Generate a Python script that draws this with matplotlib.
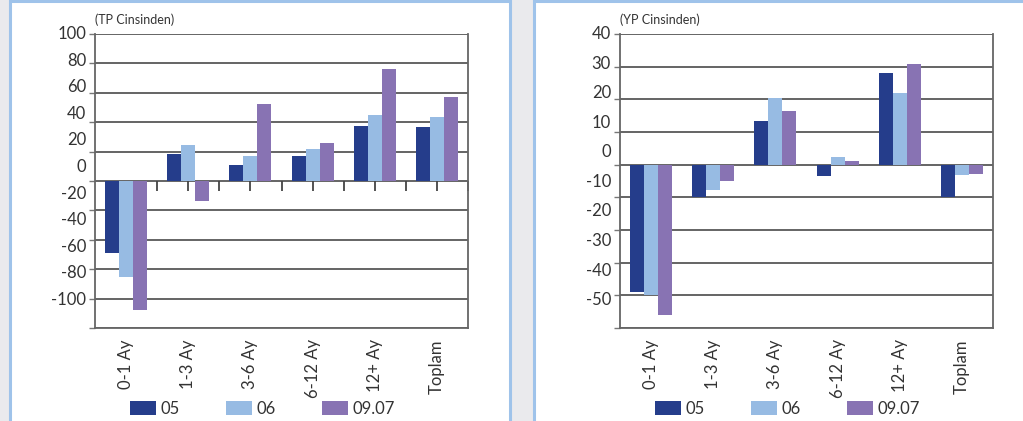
import matplotlib
matplotlib.use("Agg")
import matplotlib.pyplot as plt
from matplotlib.patches import Rectangle
from matplotlib.markers import TICKDOWN
import numpy as np

plt.rcParams['font.family'] = ['Lato', 'DejaVu Sans']

# ------ data ------ #
categories = ['0-1 Ay', '1-3 Ay', '3-6 Ay', '6-12 Ay', '12+ Ay', 'Toplam']
series_names = ['05', '06', '09.07']

tp_05 = [-48.8, 18.4, 10.9, 17.0, 37.4, 36.7]
tp_06 = [-65.1, 24.5, 17.0, 21.8, 44.9, 43.5]
tp_0907 = [-87.5, -13.6, 52.4, 25.9, 76.2, 57.1]
tp_ticks = [100, 80, 60, 40, 20, 0, -20, -40, -60, -80, -100]

yp_05 = [-39.0, -10.0, 13.4, -3.4, 28.1, -10.0]
yp_06 = [-40.0, -7.8, 20.4, 2.3, 21.9, -3.2]
yp_0907 = [-46.1, -5.0, 16.4, 1.1, 30.8, -2.9]
yp_ticks = [40, 30, 20, 10, 0, -10, -20, -30, -40, -50]

colors = ['#253d8b', '#97bbe3', '#8873b3']
text_col = '#333333'
fs = 12

W, H = 1023, 421
fig = plt.figure(figsize=(W / 100, H / 100), dpi=100)
fig.patch.set_facecolor('#eaeaed')

# white panels with light blue frame
for x0, x1 in [(10, 510), (533.5, 1030)]:
    fig.patches.append(Rectangle((x0 / W, -0.05), (x1 - x0) / W, 1.05 - 1.5 / H,
                                 transform=fig.transFigure, facecolor='white',
                                 edgecolor='#9fc3ea', linewidth=2.2, zorder=-5))


def draw_panel(left, title, values, ticks, legend_x):
    ax = fig.add_axes([left / W, 1 - 328 / H, 373 / W, 294 / H])
    x = np.arange(len(categories))
    w = 0.225
    for i, (vals, c, name) in enumerate(zip(values, colors, series_names)):
        ax.bar(x + (i - 1) * w, vals, w, color=c, label=name, zorder=3)

    ax.set_xlim(-0.5, len(categories) - 0.5)
    ax.set_ylim(min(ticks), max(ticks))
    ax.set_yticks(ticks)
    ax.yaxis.grid(True, color='#3a3a3a', linewidth=1.1, zorder=1)
    ax.set_axisbelow(True)
    ax.tick_params(axis='y', length=4, width=1, color='#777777', labelleft=False)
    ax.set_xticks(x)
    ax.set_xticklabels(categories, rotation=90, fontsize=fs, color=text_col, va='top')
    ax.tick_params(axis='x', length=0, pad=8)
    for s in ax.spines.values():
        s.set_color('#666666')
        s.set_linewidth(1.3)
    ax.spines['top'].set_visible(False)

    # value labels on the left, spread a little tighter than the gridlines
    lo, hi = min(ticks), max(ticks)
    for t in ticks:
        frac = (t - lo) / (hi - lo)
        ax.text(-9 / 373, 1 - 0.905 * (1 - frac), str(t), transform=ax.transAxes,
                ha='right', va='center', fontsize=fs, color=text_col)

    ax.text(0, 1 + 14 / 294, title, transform=ax.transAxes, ha='left', va='center',
            fontsize=9, color=text_col)

    leg = fig.legend(*ax.get_legend_handles_labels(), loc='center left',
                     bbox_to_anchor=(legend_x / W, 1 - 409 / H), ncol=3, frameon=False,
                     fontsize=fs, handlelength=1.55, handleheight=0.95,
                     handletextpad=0.3, columnspacing=2.75, borderpad=0,
                     borderaxespad=0)
    for t in leg.get_texts():
        t.set_color(text_col)
    return ax


ax1 = draw_panel(95, '(TP Cinsinden)', [tp_05, tp_06, tp_0907], tp_ticks, 130)
ax2 = draw_panel(620, '(YP Cinsinden)', [yp_05, yp_06, yp_0907], yp_ticks, 655)

# small marks hanging below the zero line of the TP chart,
# at every category centre and between categories
marks = np.arange(0, len(categories) - 0.25, 0.5)
ax1.plot(marks, np.zeros_like(marks), linestyle='none', marker=TICKDOWN,
         markersize=7, markeredgewidth=1.3, color='#444444', zorder=2)

fig.savefig('out.png', dpi=100, facecolor=fig.get_facecolor())
